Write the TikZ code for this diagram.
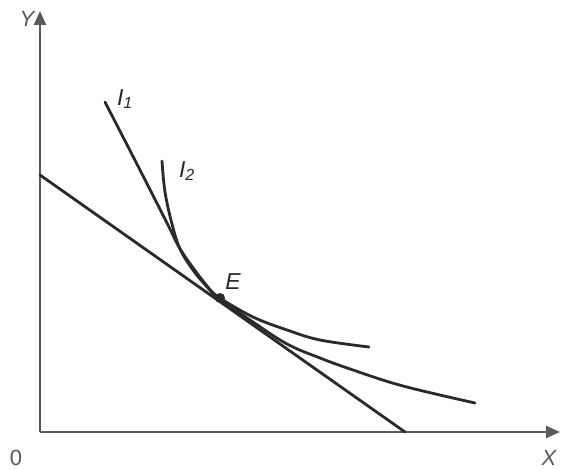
\documentclass[tikz,border=0pt]{standalone}
\usepackage{fontspec}
\setmainfont{Liberation Sans}
\usetikzlibrary{arrows.meta}
\definecolor{ink}{HTML}{2A2A2A}
\definecolor{axisc}{HTML}{5A5A5A}
\begin{document}
\begin{tikzpicture}[x=1pt,y=-1pt,
  curve/.style={draw=ink,line width=2.8pt,line cap=round},
  axisline/.style={draw=axisc,line width=2.4pt,-{Triangle[length=14pt,width=12pt]}},
  lbl/.style={text=ink,font=\fontsize{23}{27}\selectfont\itshape,inner sep=0pt},
  plainlbl/.style={text=axisc,font=\fontsize{22}{26}\selectfont,inner sep=0pt}]
\useasboundingbox[fill=white] (0,0) rectangle (563,470);
% axes
\coordinate (O) at (40,432);
\coordinate (Ytop) at (40,11);
\coordinate (Xend) at (560,432);
\draw[axisline] (O) -- (Ytop);
\draw[axisline] (O) -- (Xend);
\node[plainlbl] (lY) at (27,19) {\itshape Y};
\node[plainlbl] (l0) at (16,458) {0};
\node[plainlbl] (lX) at (549,458) {\itshape X};
% budget line
\coordinate (B1) at (40,175);
\coordinate (B2) at (405,432);
\draw[curve] (B1) -- (B2);
% indifference curve I1
\draw[curve] plot[smooth,tension=0.6] coordinates {(105,102) (140,170) (167,223) (182,252) (207,286) (220,298) (253,317) (287,330) (320,340) (369,347)};
% indifference curve I2
\draw[curve] plot[smooth,tension=0.6] coordinates {(162,161) (165,192) (172,224) (180,249) (193,270) (208,288) (220,299) (253,322) (287,344) (320,358) (353,370) (403,386) (475,403)};
% point E
\node[circle,fill=ink,inner sep=0pt,minimum size=10pt] (E) at (220,298) {};
\node[lbl] (lE) at (233,282) {E};
\node[lbl] (lI1) at (125,99) {I\textsubscript{1}};
\node[lbl] (lI2) at (187,171) {I\textsubscript{2}};
\end{tikzpicture}
\end{document}
